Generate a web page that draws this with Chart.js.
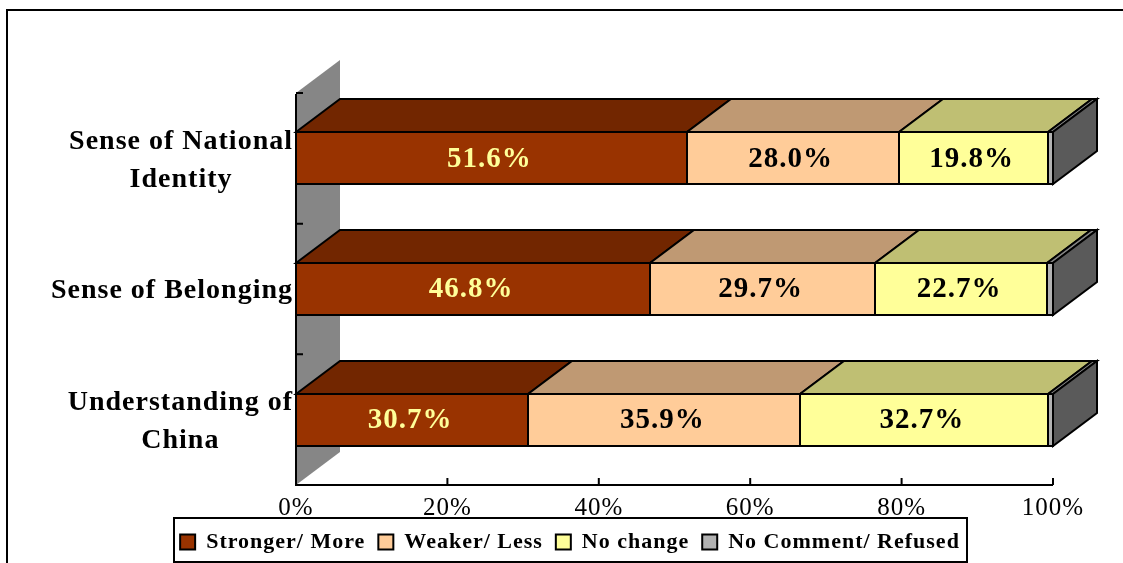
<!DOCTYPE html>
<html>
<head>
<meta charset="utf-8">
<style>
  html, body { margin: 0; padding: 0; background: #fff; overflow: hidden; }
  #wrap { width: 1123px; height: 563px; }
</style>
<script src="https://cdn.jsdelivr.net/npm/chart.js@4/dist/chart.umd.min.js"></script>
</head>
<body>
<div id="wrap"><canvas id="chart" width="1123" height="563"></canvas></div>
<script>
const categories = [['Sense of National', 'Identity'], ['Sense of Belonging'], ['Understanding of', 'China']];
const seriesNames = ['Stronger/ More', 'Weaker/ Less', 'No change', 'No Comment/ Refused'];
const strongerMore = [51.6, 46.8, 30.7];
const weakerLess = [28.0, 29.7, 35.9];
const noChange = [19.8, 22.7, 32.7];
const noComment = [0.6, 0.8, 0.7];
const frontColors = ['#993300', '#FFCC99', '#FFFF99', '#B2B2B2'];
const topColors = ['#722600', '#BF9973', '#BFBF73', '#858585'];
const sideColors = ['#4c1a00', '#806650', '#808050', '#5A5A5A'];
const labelColors = ['#FFFF99', '#000000', '#000000'];

// 3D depth of the old Excel style chart
const DEPTH_X = 44;
const DEPTH_Y = 33;
const SERIF = '"Liberation Serif", "Times New Roman", serif';

function poly(ctx, pts, fill) {
    ctx.beginPath();
    pts.forEach((p, i) => i ? ctx.lineTo(p[0], p[1]) : ctx.moveTo(p[0], p[1]));
    ctx.closePath();
    if (fill) {
        ctx.fillStyle = fill;
        ctx.fill();
    }
    ctx.lineWidth = 2;
    ctx.strokeStyle = '#000';
    ctx.stroke();
}

// corners of a bar snapped to whole pixels so the outlines stay crisp
function barBox(bar) {
    const { x, y, base, height } = bar.getProps(['x', 'y', 'base', 'height'], true);
    const y0 = Math.round(y - height / 2);
    return { x0: Math.round(base), x1: Math.round(x), y0: y0, y1: Math.round(y + height / 2) };
}

const excel3d = {
    id: 'excel3d',
    beforeLayout(chart) {
        chart.ctx.letterSpacing = '1px';
    },
    beforeDraw(chart) {
        const ctx = chart.ctx;
        ctx.letterSpacing = '1px';

        // outer frame, only top and left are inside the picture
        ctx.save();
        ctx.strokeStyle = '#000';
        ctx.lineWidth = 2;
        ctx.beginPath();
        ctx.moveTo(7, 563);
        ctx.lineTo(7, 10);
        ctx.lineTo(1123, 10);
        ctx.stroke();

        // legend box
        ctx.strokeRect(174, 518, 793, 44);
        ctx.restore();
    },
    beforeDatasetsDraw(chart) {
        const ctx = chart.ctx;
        const { left, top, bottom } = chart.chartArea;

        // grey side wall
        ctx.save();
        ctx.fillStyle = '#868686';
        ctx.beginPath();
        ctx.moveTo(left, top);
        ctx.lineTo(left + DEPTH_X, top - DEPTH_Y);
        ctx.lineTo(left + DEPTH_X, bottom - DEPTH_Y);
        ctx.lineTo(left, bottom);
        ctx.closePath();
        ctx.fill();

        // top and right faces of the bars
        chart.data.datasets.forEach((ds, d) => {
            chart.getDatasetMeta(d).data.forEach(bar => {
                const b = barBox(bar);
                poly(ctx, [[b.x0, b.y0], [b.x0 + DEPTH_X, b.y0 - DEPTH_Y], [b.x1 + DEPTH_X, b.y0 - DEPTH_Y], [b.x1, b.y0]], topColors[d]);
                if (d === chart.data.datasets.length - 1) {
                    poly(ctx, [[b.x1, b.y0], [b.x1 + DEPTH_X, b.y0 - DEPTH_Y], [b.x1 + DEPTH_X, b.y1 - DEPTH_Y], [b.x1, b.y1]], sideColors[d]);
                }
            });
        });
        ctx.restore();
    },
    afterDatasetsDraw(chart) {
        const ctx = chart.ctx;
        const xScale = chart.scales.x;
        const yScale = chart.scales.y;
        const { left, right, top, bottom } = chart.chartArea;

        ctx.save();

        // single outline on the front faces
        chart.data.datasets.forEach((ds, d) => {
            chart.getDatasetMeta(d).data.forEach(bar => {
                const b = barBox(bar);
                poly(ctx, [[b.x0, b.y0], [b.x1, b.y0], [b.x1, b.y1], [b.x0, b.y1]], null);
            });
        });

        ctx.strokeStyle = '#000';
        ctx.lineWidth = 2;

        // axis lines and inner tick marks
        ctx.beginPath();
        ctx.moveTo(left, top + 1);
        ctx.lineTo(left, bottom);
        ctx.lineTo(right, bottom);
        xScale.ticks.forEach(t => {
            const px = xScale.getPixelForValue(t.value);
            ctx.moveTo(px, bottom);
            ctx.lineTo(px, bottom - 7);
        });
        const band = (bottom - top) / categories.length;
        for (let i = 0; i <= categories.length; i++) {
            ctx.moveTo(left, top + band * i);
            ctx.lineTo(left + 7, top + band * i);
        }
        ctx.stroke();

        // category labels: right aligned block, lines centred inside it
        ctx.fillStyle = '#000';
        ctx.font = 'bold 28px ' + SERIF;
        ctx.letterSpacing = '1px';
        ctx.textAlign = 'center';
        ctx.textBaseline = 'middle';
        categories.forEach((lines, i) => {
            const cy = yScale.getPixelForValue(i);
            const w = Math.max(...lines.map(l => ctx.measureText(l).width));
            const cx = left - 3 - w / 2;
            lines.forEach((line, j) => {
                ctx.fillText(line, cx, cy + 2 + (j - (lines.length - 1) / 2) * 38);
            });
        });

        // value labels on the first three series
        ctx.font = 'bold 29px ' + SERIF;
        ctx.letterSpacing = '1px';
        labelColors.forEach((color, d) => {
            ctx.fillStyle = color;
            chart.getDatasetMeta(d).data.forEach((bar, i) => {
                const c = bar.getCenterPoint(true);
                ctx.fillText(chart.data.datasets[d].data[i].toFixed(1) + '%', c.x - 2, c.y + 1);
            });
        });
        ctx.restore();
    }
};

new Chart(document.getElementById('chart'), {
    type: 'bar',
    data: {
        labels: categories,
        datasets: [strongerMore, weakerLess, noChange, noComment].map((values, i) => ({
            label: seriesNames[i],
            data: values,
            backgroundColor: frontColors[i],
            borderWidth: 0,
            categoryPercentage: 1,
            barPercentage: 0.4
        }))
    },
    options: {
        indexAxis: 'y',
        responsive: false,
        animation: false,
        layout: { padding: { left: 87, right: 70, top: 93, bottom: 0 } },
        plugins: {
            title: { display: false },
            tooltip: { enabled: false },
            legend: {
                position: 'bottom',
                labels: {
                    boxWidth: 15,
                    boxHeight: 15,
                    padding: 13,
                    color: '#000',
                    font: { family: SERIF, size: 22, weight: 'bold' },
                    // swatches keep the black outline the bars get from the plugin
                    generateLabels: chart => Chart.defaults.plugins.legend.labels.generateLabels(chart)
                        .map(item => ({ ...item, lineWidth: 2, strokeStyle: '#000' }))
                }
            }
        },
        scales: {
            x: {
                stacked: true,
                min: 0,
                max: 100,
                afterFit(scale) { scale.height = 33; },
                grid: { display: false, drawTicks: false },
                border: { display: false },
                ticks: {
                    stepSize: 20,
                    padding: 8,
                    maxRotation: 0,
                    color: '#000',
                    font: { family: SERIF, size: 25 },
                    callback: value => value + '%'
                }
            },
            y: {
                stacked: true,
                afterFit(scale) { scale.width = 209; },
                grid: { display: false, drawTicks: false },
                border: { display: false },
                ticks: { display: false }
            }
        }
    },
    plugins: [excel3d]
});
</script>
</body>
</html>
